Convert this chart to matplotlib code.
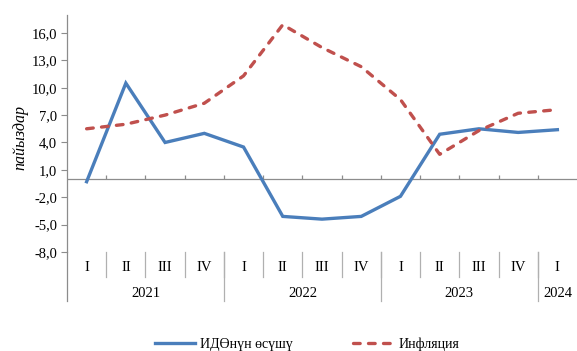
import numpy as np
import matplotlib.pyplot as plt
from matplotlib.lines import Line2D

plt.rcParams["font.family"] = ["Liberation Serif", "DejaVu Serif"]
plt.rcParams["font.size"] = 10.5

quarters = ["I", "II", "III", "IV", "I", "II", "III", "IV",
            "I", "II", "III", "IV", "I"]
years = ["2021", "2022", "2023", "2024"]
year_len = [4, 4, 4, 1]

gdp_growth = [-0.3, 10.5, 4.0, 5.0, 3.5, -4.1, -4.4, -4.1,
              -1.9, 4.9, 5.5, 5.1, 5.4]
inflation = [5.5, 6.0, 7.0, 8.3, 11.3, 16.9, 14.4, 12.3,
             8.7, 2.7, 5.3, 7.2, 7.6]

C_GDP = "#4A7EBB"
C_INF = "#C0504D"
C_AX = "#8C8C8C"
C_SEP = "#B0B0B0"
DASH = (2.0, 2.5)

fig = plt.figure(figsize=(5.77, 3.51), dpi=100)
ax = fig.add_axes([67 / 577, 99 / 351, 510 / 577, 237.3 / 351])

x = np.arange(len(quarters)) + 0.5
ax.plot(x, gdp_growth, color=C_GDP, lw=2.4, solid_joinstyle="miter")
ax.plot(x, inflation, color=C_INF, lw=2.4, dashes=DASH, dash_capstyle="round")

ax.set_xlim(0, len(quarters))
ax.set_ylim(-8, 18)
yt = np.arange(-8, 17, 3)
ax.set_yticks(yt)
ax.set_yticklabels([f"{v:.1f}".replace(".", ",") for v in yt])
ax.tick_params(axis="y", direction="out", length=4, color=C_AX, pad=3, labelsize=10.5)
ax.set_xticks([])

for s in ["top", "right", "bottom"]:
    ax.spines[s].set_visible(False)
ax.spines["left"].set_color(C_AX)
ax.spines["left"].set_linewidth(0.9)

# zero line with inward category ticks
ax.axhline(0, color=C_AX, lw=0.9, zorder=1)
ax.vlines(np.arange(1, len(quarters)), 0, 0.45, color=C_AX, lw=0.9, zorder=1)

# two-level category axis below the plot
q_bottom = -10.7
y_bottom = -13.4
ax.plot([0, 0], [-8, y_bottom], color=C_AX, lw=0.9, clip_on=False)
for i, q in enumerate(quarters):
    ax.text(i + 0.5, -9.75, q, ha="center", va="center", clip_on=False)
for b in range(1, len(quarters)):
    ax.plot([b, b], [-8, q_bottom], color=C_SEP, lw=0.9, clip_on=False)
start = 0
for yr, n in zip(years, year_len):
    ax.text(start + n / 2, -12.6, yr, ha="center", va="center", clip_on=False)
    start += n
    if start < len(quarters):
        ax.plot([start, start], [-8, y_bottom], color=C_SEP, lw=0.9, clip_on=False)

fig.text(20 / 577, 1 - 137 / 351, "пайыздар", rotation=90, style="italic",
         ha="center", va="center", fontsize=11.5)

handles = [Line2D([], [], color=C_GDP, lw=2.4),
           Line2D([], [], color=C_INF, lw=2.4, dashes=DASH, dash_capstyle="round")]
fig.legend(handles, ["ИДӨнүн өсүшү", "Инфляция"], loc="center",
           bbox_to_anchor=(307 / 577, 1 - 344 / 351), ncol=2, frameon=False,
           handlelength=2.9, handletextpad=0.36, columnspacing=4.3, fontsize=10,
           borderpad=0, borderaxespad=0)

fig.savefig("out.png", dpi=100)
